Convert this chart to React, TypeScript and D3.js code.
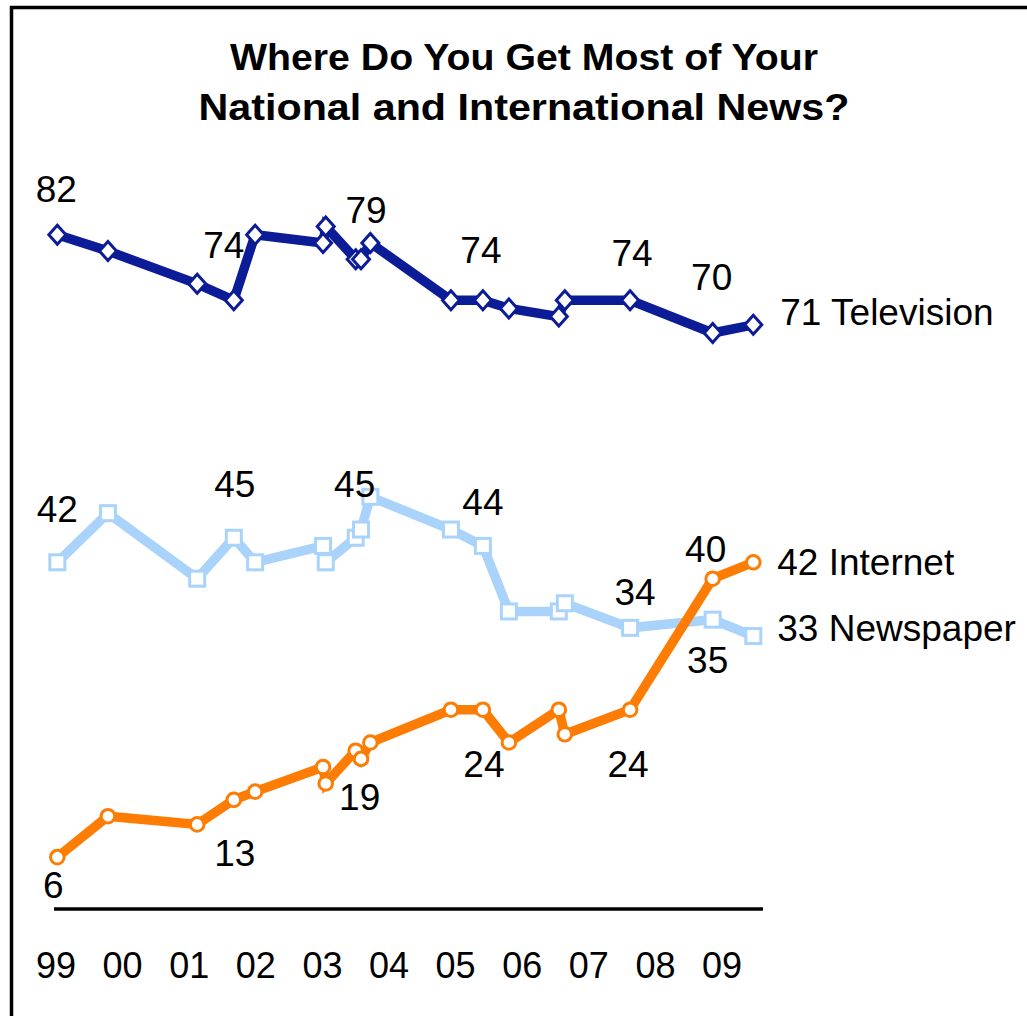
import React from "react";
import * as d3 from "d3";

// ---- Data ----
const surveyDates = [1999.02, 1999.78, 2001.12, 2001.67, 2001.99, 2003.01, 2003.05, 2003.5, 2003.58, 2003.72, 2004.93, 2005.41, 2005.8, 2006.55, 2006.64, 2007.62, 2008.86, 2009.47];
const television = [82, 80, 76, 74, 82, 81, 83, 79, 79, 81, 74, 74, 73, 72, 74, 74, 70, 71];
const newspaper = [42, 48, 40, 45, 42, 44, 42, 45, 46, 50, 46, 44, 36, 36, 37, 34, 35, 33];
const internet = [6, 11, 10, 13, 14, 17, 15, 19, 18, 20, 24, 24, 20, 24, 21, 24, 40, 42];
const yearTicks = [1999, 2000, 2001, 2002, 2003, 2004, 2005, 2006, 2007, 2008, 2009];
const yearLabels = ["99", "00", "01", "02", "03", "04", "05", "06", "07", "08", "09"];
const titleLines = ["Where Do You Get Most of Your", "National and International News?"];
const seriesNames = ["Television", "Newspaper", "Internet"];

// labelled points: index into the series
const tvLabelIdx = [0, 3, 8, 11, 15, 16];
const npLabelIdx = [0, 3, 7, 11, 15, 16];
const netLabelIdx = [0, 3, 7, 11, 15, 16];

// ---- Layout (placement only) ----
const W = 1027;
const H = 1016;
const tvOffsets = [[-1, -33], [-10, -42], [5, -36], [-2, -37], [2, -34], [-1, -43]];
const npOffsets = [[0, -40], [1, -41], [-1, -41], [0, -31], [5, -23], [-5, 53]];
const netOffsets = [[-4, 41], [1, 66], [4, 59], [1, 67], [-2, 67], [-7, -17]];
const endOffsets = [[27, 0], [24, 5], [24, 13]];

const COLORS = { tv: "#0b1c96", np: "#a9d3fa", net: "#fd7c04" };
const FONT = "'Liberation Sans', Arial, sans-serif";

export default function App() {
  const x = d3.scaleLinear().domain([1999, 2009]).range([56, 722]);
  const y = d3.scaleLinear().domain([0, 82]).range([906.3, 234.7]);
  const line = d3
    .line<number>()
    .x((_, i) => x(surveyDates[i]))
    .y((d) => y(d));

  const series = [
    { key: "tv", name: seriesNames[0], values: television, color: COLORS.tv, shape: "diamond", labels: tvLabelIdx, offs: tvOffsets, end: endOffsets[0] },
    { key: "np", name: seriesNames[1], values: newspaper, color: COLORS.np, shape: "square", labels: npLabelIdx, offs: npOffsets, end: endOffsets[1] },
    { key: "net", name: seriesNames[2], values: internet, color: COLORS.net, shape: "circle", labels: netLabelIdx, offs: netOffsets, end: endOffsets[2] },
  ];

  const marker = (shape: string, cx: number, cy: number, color: string, k: string) => {
    if (shape === "diamond") {
      const d = `M${cx},${cy - 9.5}L${cx + 8.5},${cy}L${cx},${cy + 9.5}L${cx - 8.5},${cy}Z`;
      return <path key={k} d={d} fill="#fff" stroke={color} strokeWidth={3} />;
    }
    if (shape === "square") {
      return <rect key={k} x={cx - 7.5} y={cy - 7.5} width={15} height={15} fill="#fff" stroke={color} strokeWidth={3} />;
    }
    return <circle key={k} cx={cx} cy={cy} r={6.8} fill="#fff" stroke={color} strokeWidth={3} />;
  };

  const last = surveyDates.length - 1;

  return (
    <svg
      width={W}
      height={H}
      style={{ position: "absolute", left: 0, top: 0, background: "#fff" }}
      fontFamily={FONT}
    >
      <rect x={0} y={0} width={W} height={H} fill="#fff" />
      {/* frame */}
      <path d={`M11.5,${H} V7.5 H${W}`} fill="none" stroke="#000" strokeWidth={3.5} />

      {/* title */}
      {titleLines.map((t, i) => (
        <text
          key={t}
          x={524}
          y={70 + i * 50}
          textAnchor="middle"
          fontSize={37}
          fontWeight="bold"
          fontFamily="'Liberation Sans Narrow', 'Liberation Sans', Arial, sans-serif"
          textLength={i === 0 ? 588 : 651}
          lengthAdjust="spacingAndGlyphs"
          fill="#000"
        >
          {t}
        </text>
      ))}

      {/* lines + markers */}
      {series.map((s) => (
        <g key={s.key}>
          <path d={line(s.values) || ""} fill="none" stroke={s.color} strokeWidth={9.5} strokeLinejoin="miter" />
          {s.values.map((v, i) => marker(s.shape, x(surveyDates[i]), y(v), s.color, `${s.key}-${i}`))}
        </g>
      ))}

      {/* point labels */}
      {series.map((s) =>
        s.labels.map((idx, j) => (
          <text
            key={`${s.key}-l-${j}`}
            x={x(surveyDates[idx]) + s.offs[j][0]}
            y={y(s.values[idx]) + s.offs[j][1]}
            textAnchor="middle"
            fontSize={37}
            fill="#000"
          >
            {s.values[idx]}
          </text>
        ))
      )}

      {/* end labels */}
      {series.map((s) => (
        <text
          key={`${s.key}-end`}
          x={x(surveyDates[last]) + s.end[0]}
          y={y(s.values[last]) + s.end[1]}
          fontSize={37}
          fill="#000"
        >
          {`${s.values[last]} ${s.name}`}
        </text>
      ))}

      {/* baseline */}
      <line x1={54} x2={763} y1={909} y2={909} stroke="#000" strokeWidth={3.5} />

      {/* year labels */}
      {yearTicks.map((yr, i) => (
        <text key={yr} x={x(yr)} y={978} textAnchor="middle" fontSize={36} fill="#000">
          {yearLabels[i]}
        </text>
      ))}
    </svg>
  );
}
